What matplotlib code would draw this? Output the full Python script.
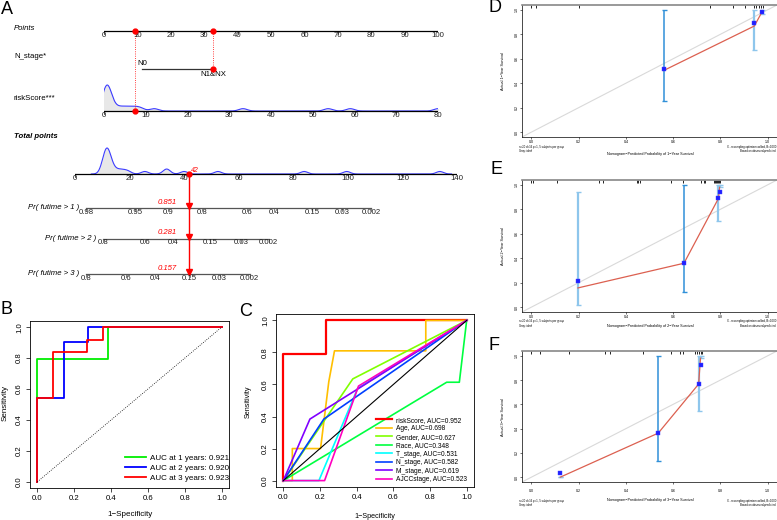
import numpy as np
import matplotlib
matplotlib.use('Agg')
import matplotlib.pyplot as plt

plt.rcParams['font.family'] = ['Liberation Sans', 'DejaVu Sans']

W, H = 777, 520

# ---------------- panel A : nomogram ----------------
points_ticks = [0, 10, 20, 30, 40, 50, 60, 70, 80, 90, 100]
n_levels = ['N0', 'N1&NX']
n_points = [11.5, 32.6]
risk_ticks = [0, 10, 20, 30, 40, 50, 60, 70, 80]
risk_full = 80  # riskScore worth 100 points
risk_sample = [0.0, 0.2, 0.35, 0.5, 0.6, 0.7, 0.8, 0.9, 1.0, 1.15, 1.3, 1.5,
               2.8, 4.0, 5.2, 6.4, 7.6, 8.8, 12, 33.3, 53.7, 59, 80]
total_ticks = [0, 20, 40, 60, 80, 100, 120, 140]
total_sample = [10.4, 10.7, 11.0, 11.2, 11.4, 11.6, 11.8, 12.0, 12.2, 12.4, 12.7, 13.0,
                14.4, 16.0, 17.6, 19.4, 25.6, 33.4, 33.8, 40.0, 52.4, 84, 99.6, 133.7]
pr_names = ['Pr( futime > 1 )', 'Pr( futime > 2 )', 'Pr( futime > 3 )']
pr_labels = [['0.98', '0.95', '0.9', '0.8', '0.6', '0.4', '0.15', '0.03', '0.002'],
             ['0.8', '0.6', '0.4', '0.15', '0.03', '0.002'],
             ['0.8', '0.6', '0.4', '0.15', '0.03', '0.002']]
pr_pos = [[4.2, 22, 34, 46.5, 63, 73, 87, 98, 108.5],
          [10.3, 25.6, 36, 49.5, 61, 71],
          [4.2, 18.7, 29.3, 42, 53, 64]]
patient_risk = 7.4
patient_n = 1
patient_prob = ['0.851', '0.281', '0.157']

# ---------------- panel B : time ROC ----------------
b_fpr = [[0, 0, 0.385, 0.385, 1],
         [0, 0, 0.142, 0.142, 0.277, 0.277, 1],
         [0, 0, 0.083, 0.083, 0.269, 0.269, 0.355, 0.355, 1]]
b_tpr = [[0, 0.797, 0.797, 1, 1],
         [0, 0.541, 0.541, 0.905, 0.905, 1, 1],
         [0, 0.54, 0.54, 0.84, 0.84, 0.918, 0.918, 1, 1]]
b_auc = ['0.921', '0.920', '0.923']
b_colors = ['#00EE00', '#0000FF', '#FF0000']

# ---------------- panel C : multi ROC ----------------
c_names = ['riskScore', 'Age', 'Gender', 'Race', 'T_stage', 'N_stage', 'M_stage', 'AJCCstage']
c_auc = ['0.952', '0.698', '0.627', '0.348', '0.531', '0.582', '0.619', '0.523']
c_fpr = [[0, 0, 0.234, 0.234, 1],
         [0, 0.049, 0.049, 0.203, 0.248, 0.279, 0.777, 0.777, 1],
         [0, 0.379, 1],
         [0, 0.891, 0.96, 1],
         [0, 0.194, 0.405, 1],
         [0, 0.221, 1],
         [0, 0.145, 1],
         [0, 0.225, 0.41, 1]]
c_tpr = [[0, 0.79, 0.79, 1, 1],
         [0, 0, 0.2, 0.2, 0.618, 0.81, 0.81, 1, 1],
         [0, 0.635, 1],
         [0, 0.614, 0.614, 1],
         [0, 0, 0.575, 1],
         [0, 0.384, 1],
         [0, 0.384, 1],
         [0, 0, 0.59, 1]]
c_colors = ['#FF0000', '#FFBF00', '#80FF00', '#00FF40', '#00FFFF', '#0040FF', '#8000FF', '#FF00BF']

# ---------------- panels D-F : calibration ----------------
cal_years = [1, 2, 3]
cal_pred = [[0.56, 0.944, 0.975], [0.197, 0.646, 0.792, 0.797], [0.122, 0.537, 0.708, 0.716]]
cal_obs = [[0.504, 0.868, 0.978], [0.157, 0.359, 0.889, 0.98], [0.0, 0.363, 0.767, 0.98]]
cal_corr = [[0.518, 0.89, 0.984], [0.215, 0.359, 0.889, 0.945], [0.036, 0.363, 0.767, 0.926]]
cal_lo = [[0.252, 0.671, 0.97], [0.019, 0.122, 0.705, 0.98], [0.0, 0.132, 0.547, 0.98]]
cal_hi = [[1.0, 1.0, 1.0], [0.945, 1.0, 1.0, 1.0], [0.0, 1.0, 1.0, 1.0]]
cal_rug = [[0.0, 0.02, 0.2, 0.757, 0.853, 0.904, 0.944, 0.951, 0.965, 0.972, 0.979],
           [0.0, 0.006, 0.108, 0.287, 0.305, 0.448, 0.452, 0.459, 0.593, 0.642, 0.719,
            0.729, 0.737, 0.775, 0.778, 0.782, 0.787, 0.79, 0.795, 0.8],
           [0.0, 0.038, 0.157, 0.312, 0.333, 0.473, 0.593, 0.628, 0.642, 0.694, 0.7,
            0.71, 0.716, 0.722]]
bar_light, bar_mid = '#8EC6EC', '#3090D8'
cal_bar_colors = [[bar_mid, bar_light, bar_light],
                  [bar_light, bar_mid, bar_light, bar_light],
                  [bar_light, bar_mid, bar_light, bar_light]]


fig = plt.figure(figsize=(W / 100, H / 100), dpi=100)


def px_axes(x0, y0, x1, y1):
    return fig.add_axes([x0 / W, 1 - y1 / H, (x1 - x0) / W, (y1 - y0) / H])


def ftext(x, y, s, **kw):
    fig.text(x / W, 1 - y / H, s, **kw)


def kde(sample, grid, bw):
    s = np.asarray(sample, dtype=float)[:, None]
    d = np.exp(-0.5 * ((grid[None, :] - s) / bw) ** 2).sum(axis=0)
    return d / d.max()


fs_a = 5.6
red = '#FF0000'

# ---- A: top rows (x in points) ----
ax1 = px_axes(104, 15, 438, 125)
ax1.set_xlim(0, 100)
ax1.set_ylim(125, 15)
ax1.axis('off')
y_pts, y_n, y_risk = 31, 69, 111

ax1.plot([points_ticks[0], points_ticks[-1]], [y_pts, y_pts], color='k', lw=0.9)
for v in points_ticks:
    ax1.plot([v, v], [y_pts, y_pts + 2.5], color='k', lw=0.5)
    ax1.text(v, y_pts + 4.5, str(v), ha='center', va='center', fontsize=fs_a, color='#222222')

ax1.plot(n_points, [y_n, y_n], color='#333333', lw=0.9)
ax1.text(n_points[0], y_n - 2, n_levels[0], ha='center', va='bottom', fontsize=fs_a)
ax1.text(n_points[1], y_n + 1.5, n_levels[1], ha='center', va='top', fontsize=fs_a)

scale = 100 / risk_full
grid = np.linspace(-2, 83, 800)
dens = kde(risk_sample, grid, 1.0)
ax1.fill_between(grid * scale, y_risk, y_risk - dens * 26, color='#E8E8E8', lw=0)
ax1.plot(grid * scale, y_risk - dens * 26, color='#3B3BFF', lw=0.8)
ax1.plot([risk_ticks[0] * scale, risk_ticks[-1] * scale], [y_risk, y_risk], color='k', lw=0.9)
for v in risk_ticks:
    ax1.plot([v * scale] * 2, [y_risk, y_risk + 2.5], color='k', lw=0.5)
    ax1.text(v * scale, y_risk + 4.5, str(v), ha='center', va='center', fontsize=fs_a, color='#222222')

risk_pts = patient_risk * scale
n_pts = n_points[patient_n]
ax1.plot([risk_pts, risk_pts], [y_pts, y_risk], color=red, lw=0.6, ls=':')
ax1.plot([n_pts, n_pts], [y_pts, y_n], color=red, lw=0.6, ls=':')
ax1.plot([risk_pts, n_pts, n_pts, risk_pts], [y_pts, y_pts, y_n, y_risk], 'o',
         color=red, ms=3.5, ls='none', clip_on=False, zorder=5)

ftext(14, 29, 'Points', fontsize=fs_a, style='italic', va='center')
ftext(14, 57, 'N_stage*', fontsize=fs_a, va='center')
ftext(14, 98, 'riskScore***', fontsize=fs_a, va='center')
ftext(14, 136, 'Total points', fontsize=fs_a, style='italic', weight='bold', va='center')

# ---- A: total points and probabilities ----
ax2 = px_axes(75, 140, 457, 290)
ax2.set_xlim(0, 140)
ax2.set_ylim(290, 140)
ax2.axis('off')
y_tot = 174
y_pr = [208, 239, 274]

grid_t = np.linspace(6, 138, 800)
dens_t = kde(total_sample, grid_t, 1.3)
ax2.fill_between(grid_t, y_tot, y_tot - dens_t * 26, color='#E8E8E8', lw=0)
ax2.plot(grid_t, y_tot - dens_t * 26, color='#3B3BFF', lw=0.8)
ax2.plot([total_ticks[0], total_ticks[-1]], [y_tot, y_tot], color='k', lw=0.9)
for v in total_ticks:
    ax2.plot([v, v], [y_tot, y_tot + 2.5], color='k', lw=0.5)
    ax2.text(v, y_tot + 4.5, str(v), ha='center', va='center', fontsize=fs_a, color='#222222')

for name, labs, pos, yy in zip(pr_names, pr_labels, pr_pos, y_pr):
    ax2.plot([pos[0], pos[-1]], [yy, yy], color='#555555', lw=0.9)
    for lab, p in zip(labs, pos):
        ax2.plot([p, p], [yy, yy + 2.5], color='#555555', lw=0.5)
        ax2.text(p, yy + 4, lab, ha='center', va='center', fontsize=fs_a, color='#222222')
    ax2.text(pos[0] - 2.6, yy - 0.5, name, ha='right', va='center', fontsize=fs_a, style='italic')

patient_total = risk_pts + n_pts
ax2.plot([patient_total, patient_total], [y_tot, y_pr[-1]], color=red, lw=1.0)
ax2.plot([patient_total], [y_tot], 'o', color=red, ms=3.5)
ax2.plot([patient_total] * 3, [y - 2 for y in y_pr], 'v', color=red, ms=4.5, clip_on=False)
ax2.text(patient_total + 0.8, y_tot - 3.5, f'{patient_total:.0f}', color=red, fontsize=5,
         style='italic', va='center')
for prob, yy in zip(patient_prob, y_pr):
    ax2.text(patient_total - 4.5, yy - 6, prob, color=red, fontsize=fs_a, style='italic',
             ha='right', va='center')


def roc_style(ax):
    ax.set_xlim(-0.04, 1.04)
    ax.set_ylim(-0.04, 1.04)
    ticks = [0, 0.2, 0.4, 0.6, 0.8, 1.0]
    ax.set_xticks(ticks)
    ax.set_yticks(ticks)
    ax.set_xticklabels([f'{t:.1f}' for t in ticks])
    ax.set_yticklabels([f'{t:.1f}' for t in ticks], rotation=90, va='center')
    ax.tick_params(labelsize=5.6, length=3, width=0.5, pad=2)
    for s in ax.spines.values():
        s.set_linewidth(0.6)


# ---- B ----
axB = px_axes(30, 321, 229, 488)
for f, t, c, a, yr in zip(b_fpr, b_tpr, b_colors, b_auc, [1, 2, 3]):
    axB.plot(f, t, color=c, lw=1.3, label=f'AUC at {yr} years: {a}')
axB.plot([0, 1], [0, 1], color='k', lw=0.6, ls=':')
roc_style(axB)
axB.legend(loc='lower right', bbox_to_anchor=(229 / W, 1 - 482 / H), bbox_transform=fig.transFigure,
           frameon=False, fontsize=5.8, handlelength=2.6, handletextpad=0.5, labelspacing=0.3,
           borderpad=0, borderaxespad=0)
ftext(130, 514, '1−Specificity', ha='center', va='center', fontsize=5.8)
ftext(5, 403, 'Sensitivity', ha='center', va='center', fontsize=5.8, rotation=90)

# ---- C ----
axC = px_axes(276, 314, 474, 487)
for f, t, c, nm, a in zip(c_fpr, c_tpr, c_colors, c_names, c_auc):
    axC.plot(f, t, color=c, lw=1.6 if nm == 'riskScore' else 1.2, label=f'{nm}, AUC={a}')
axC.plot([0, 1], [0, 1], color='k', lw=0.8)
roc_style(axC)
axC.legend(loc='lower right', bbox_to_anchor=(467 / W, 1 - 483 / H), bbox_transform=fig.transFigure,
           frameon=False, fontsize=4.8, handlelength=2.4, handletextpad=0.6, labelspacing=0.22,
           borderpad=0, borderaxespad=0)
ftext(375, 516, '1−Specificity', ha='center', va='center', fontsize=5.2)
ftext(248, 402, 'Sensitivity', ha='center', va='center', fontsize=5.2, rotation=90)

# ---- D, E, F ----
cal_top = [5, 180, 351]
cal_bot = [137, 312, 482]
cal_pad = [0.5, 0.9, 3.4]
cal_xlab_y = [154, 326, 500]
cal_foot_y = [149, 323.5, 503]
for i, yr in enumerate(cal_years):
    ax = px_axes(522, cal_top[i], 777, cal_bot[i])
    ax.set_xlim(-0.04, 1.04)
    ax.set_ylim(-0.04, 1.04)
    ax.axline((0, 0), slope=1, color='#D9D9D9', lw=0.8)
    ax.vlines(cal_rug[i], 1.015, 1.04, color='k', lw=0.6)
    for p, lo, hi, c in zip(cal_pred[i], cal_lo[i], cal_hi[i], cal_bar_colors[i]):
        ax.errorbar([p], [(lo + hi) / 2], yerr=[(hi - lo) / 2], fmt='none', ecolor=c,
                    elinewidth=1.6 if c == bar_light else 1.1, capsize=1.8,
                    capthick=1.0, clip_on=False)
    ax.plot(cal_pred[i], cal_obs[i], color='#DC6050', lw=0.9)
    ax.plot(cal_pred[i], cal_corr[i], 's', color='#2020FF', ms=2.2, mec='#4040FF', mew=0.3)
    ticks = [0, 0.2, 0.4, 0.6, 0.8, 1.0]
    ax.set_xticks(ticks)
    ax.set_yticks(ticks)
    ax.set_xticklabels([f'{t:.1f}' for t in ticks])
    ax.set_yticklabels([f'{t:.1f}' for t in ticks], rotation=90, va='center')
    ax.tick_params(axis='x', labelsize=2.6, length=1.5, width=0.4, pad=cal_pad[i])
    ax.tick_params(axis='y', labelsize=2.6, length=1.5, width=0.4, pad=0.5)
    for s in ax.spines.values():
        s.set_linewidth(0.5)
    ax.spines['top'].set_color('#888888')
    ax.spines['top'].set_linewidth(1.2)
    mid = (cal_top[i] + cal_bot[i]) / 2
    ftext(503, mid, f'Actual {yr}−Year Survival', rotation=90, ha='center', va='center', fontsize=2.7)
    ftext(650, cal_xlab_y[i], f'Nomogram−Predicted Probability of {yr}−Year Survival',
          ha='center', va='center', fontsize=2.7)
    ftext(519, cal_foot_y[i], 'n=20 d=16 p=1, 5 subjects per group\nGray: ideal',
          ha='left', va='center', fontsize=2.0, linespacing=1.2)
    ftext(776, cal_foot_y[i], 'X - resampling optimism added, B=1000\nBased on observed-predicted',
          ha='right', va='center', fontsize=2.0, linespacing=1.2)

# ---- panel letters ----
for lab, x, y in [('A', 1, 9), ('B', 1, 310), ('C', 239, 311), ('D', 489, 7), ('E', 490, 170), ('F', 488, 345)]:
    ftext(x, y, lab, fontsize=13, ha='left', va='center')

fig.savefig('out.png', dpi=100, facecolor='white')
